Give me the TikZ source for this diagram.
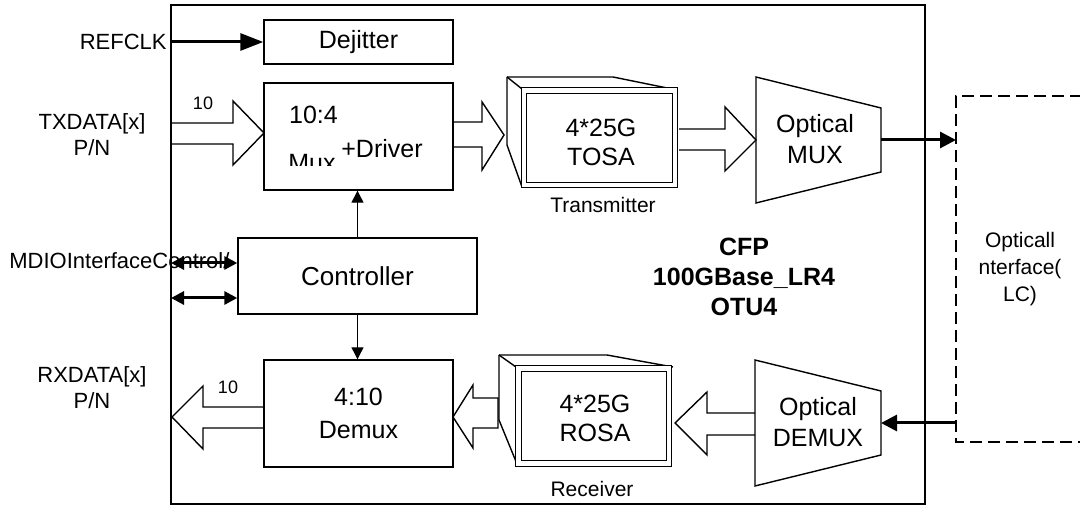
\documentclass[tikz,border=0pt]{standalone}
\usepackage{fontspec}
\setmainfont{Liberation Sans}
\usetikzlibrary{arrows.meta}

\begin{document}
\begin{tikzpicture}[x=0.5pt,y=0.5pt,yscale=-1,xscale=1,
  blk/.style={draw,line width=0.7pt,inner sep=0pt,minimum width=94.5pt},
  txt/.style={font=\fontsize{12.5}{14.5}\selectfont,align=center,inner sep=0pt},
  sidetxt/.style={font=\fontsize{11}{13}\selectfont,align=center,inner sep=0pt},
  smalltxt/.style={font=\fontsize{10.5}{13.3}\selectfont,align=center,inner sep=0pt},
  fatarrow/.style={draw,line width=0.7pt,line join=miter},
  bus/.style={line width=1.5pt},
  thin/.style={line width=0.6pt,-{Triangle[length=6pt,width=6pt]}}]
\path[use as bounding box] (0,0) rectangle (1080,506);
\clip (0,0) rectangle (1080,506);

%Shape: Rectangle [CFP module]
\draw[line width=0.7pt] (171,5) rectangle (925,504);

%Blocks
\node[blk,minimum height=22pt,txt] (dej) at (358.5,42) {Dejitter};
\node[blk,minimum height=53.5pt] (mux) at (358.5,136.5) {};
\node[blk,minimum width=119.5pt,minimum height=38pt,txt,font=\fontsize{13}{15}\selectfont] (ctrl) at (357.5,276) {Controller};
\node[blk,minimum height=53.5pt,txt,font=\fontsize{12.5}{16.5}\selectfont] (demux) at (358.5,413.5) {4:10\\Demux};

% Text in the mux block
\node[txt] (muxa) at (313.5,115) {10:4};
\begin{scope}
\clip (264,83) rectangle (453,166);
\node[txt] (muxb) at (312,163) {Mux};
\end{scope}
\node[txt] (muxc) at (382,149) {+Driver};

%Shape: TOSA box
\draw[line width=0.7pt] (507,77) -- (507,145) -- (522,187);
\draw[line width=0.7pt] (507,77) -- (522,89);
\draw[line width=0.7pt] (507,77) -- (613,77) -- (677,90);
\draw[line width=0.6pt,double,double distance=2.2pt] (524,90.5) rectangle (675,185);
\node[txt] (tosa) at (601,142) {4*25G\\TOSA};
\node[smalltxt] (tx) at (603,205) {Transmitter};

%Shape: ROSA box
\draw[line width=0.7pt] (499,355) -- (499,420) -- (517,464);
\draw[line width=0.7pt] (499,355) -- (516,367);
\draw[line width=0.7pt] (499,355) -- (607,355) -- (673,367);
\draw[line width=0.6pt,double,double distance=2.2pt] (518.5,368.5) rectangle (669,463.5);
\node[txt] (rosa) at (595,418) {4*25G\\ROSA};
\node[smalltxt] (rx) at (592,489) {Receiver};

%Shape: Optical MUX / DEMUX
\draw[line width=0.7pt] (756,77) -- (881,108) -- (881,172) -- (756,203) -- cycle;
\node[txt,font=\fontsize{12.5}{15.5}\selectfont] (omux) at (815,139) {Optical\\MUX};
\draw[line width=0.7pt] (755,360) -- (881,391) -- (881,455) -- (755,486) -- cycle;
\node[txt,font=\fontsize{12.5}{15.5}\selectfont] (odemux) at (818,422) {Optical\\DEMUX};
\coordinate (muxout) at (881,140);
\coordinate (demuxin) at (881,423);

%Shape: Optical interface (dashed)
\draw[line width=0.7pt,dash pattern=on 6pt off 3pt] (1100,96) -- (956,96) -- (956,442) -- (1100,442);
\node[smalltxt] (oif) at (1020,269) {Opticall\\nterface(\\LC)};
\coordinate (oiftop) at (956,140);
\coordinate (oifbot) at (956,423);

%Hollow arrows (data paths)
\draw[fatarrow] (171,123) -- (233,123) -- (233,101) -- (264,133) -- (233,165) -- (233,144) -- (171,144);
\draw[fatarrow] (453,122) -- (482,122) -- (482,102) -- (504,135) -- (482,170) -- (482,147) -- (453,147);
\draw[fatarrow] (679,129) -- (725,129) -- (725,107) -- (756,140) -- (725,171) -- (725,150) -- (679,150);
\draw[fatarrow] (755,413) -- (707,413) -- (707,392) -- (675,423) -- (707,455) -- (707,435) -- (755,435);
\draw[fatarrow] (498,398) -- (473,398) -- (473,385) -- (453,417) -- (473,448) -- (473,428) -- (498,428) -- cycle;
\draw[fatarrow] (264,407) -- (203,407) -- (203,386) -- (172,417) -- (203,449) -- (203,428) -- (264,428);

% Text Node
\node[sidetxt,anchor=east] (refclk) at (167,42) {REFCLK};
\node[sidetxt,font=\fontsize{11}{13}\selectfont] (txd) at (92,135) {TXDATA[x]\\P/N};
\node[sidetxt] (rxd) at (92,388) {RXDATA[x]\\P/N};
\node[sidetxt,font=\fontsize{9}{11}\selectfont] (txw) at (203,103) {10};
\node[sidetxt,font=\fontsize{9}{11}\selectfont] (rxw) at (228,387) {10};
\begin{scope}
\clip (0,240) rectangle (238,285);
\node[sidetxt,anchor=west] (mdio) at (9,261) {MDIOInterfaceControl/};
\end{scope}
\node[txt,font=\bfseries\fontsize{12.5}{15}\selectfont] (cfp) at (744,277) {CFP\\100GBase\_LR4\\OTU4};

%Connectors
\coordinate (refin) at (171,42);
\draw[bus,-{Triangle[length=11.5pt,width=8.5pt]}] (refin) -- (dej.west);
\draw[bus,-{Triangle[length=8pt,width=8pt]}] (muxout) -- (oiftop);
\draw[bus,-{Triangle[length=8pt,width=8pt]}] (oifbot) -- (demuxin);
\coordinate (mdioa) at (171,263);
\coordinate (mdiob) at (171,298);
\draw[bus,{Triangle[length=6.5pt,width=6.5pt]}-{Triangle[length=6.5pt,width=6.5pt]}] (mdioa) -- (mdioa -| ctrl.west);
\draw[bus,{Triangle[length=6.5pt,width=6.5pt]}-{Triangle[length=6.5pt,width=6.5pt]}] (mdiob) -- (mdiob -| ctrl.west);
\draw[thin] (ctrl.north) -- (ctrl.north |- mux.south);
\draw[thin] (ctrl.south) -- (ctrl.south |- demux.north);

\end{tikzpicture}
\end{document}
